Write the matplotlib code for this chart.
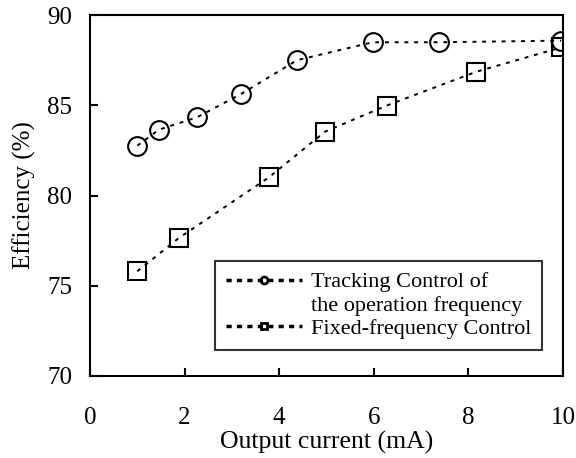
import matplotlib
matplotlib.use("Agg")
import matplotlib.pyplot as plt
from matplotlib.lines import Line2D

plt.rcParams['font.family'] = ['Liberation Serif', 'DejaVu Serif']

# Tracking control of the operation frequency
track_x = [1.0, 1.46, 2.26, 3.19, 4.38, 5.98, 7.38, 9.96]
track_y = [82.76, 83.65, 84.33, 85.62, 87.5, 88.49, 88.49, 88.58]

# Fixed-frequency control
fixed_x = [1.0, 1.88, 3.78, 4.97, 6.27, 8.17, 9.96]
fixed_y = [75.8, 77.65, 81.0, 83.54, 84.98, 86.86, 88.2]

fig = plt.figure(figsize=(5.76, 4.58), dpi=100)
ax = fig.add_axes([90 / 576, 1 - 376 / 458, 473 / 576, 361 / 458])

ax.plot(track_x, track_y, color='black', ls=(0, (2, 3)), lw=1.4,
        marker='o', ms=13.5, mfc='none', mec='black', mew=1.5)
ax.plot(fixed_x, fixed_y, color='black', ls=(0, (2, 3)), lw=1.4,
        marker='s', ms=13, mfc='none', mec='black', mew=1.5)

ax.set_xlim(0, 10)
ax.set_ylim(70, 90)
ax.set_xticks([0, 2, 4, 6, 8, 10])
ax.set_yticks([70, 75, 80, 85, 90])
ax.tick_params(direction='in', length=6, width=1.5, labelsize=18)
ax.tick_params(axis='x', pad=22)
ax.tick_params(axis='y', pad=13)
for s in ax.spines.values():
    s.set_linewidth(1.5)

ax.set_xlabel('Output current (mA)', fontsize=18.5, labelpad=2)
ax.set_ylabel('Efficiency (%)', fontsize=18, labelpad=8)

# legend: handle sits on the first line of the two-line label
h_track = Line2D([], [], color='black', ls=(0, (1.5, 1.5)), lw=2.5,
                 marker='o', ms=5, mfc='none', mec='black', mew=2)
h_blank = Line2D([], [], color='none')
h_fixed = Line2D([], [], color='black', ls=(0, (1.5, 1.5)), lw=2.5,
                 marker='s', ms=5, mfc='none', mec='black', mew=2)
leg = ax.legend([h_track, h_blank, h_fixed],
                ['Tracking Control of', 'the operation frequency',
                 'Fixed-frequency Control'],
                loc='lower right', bbox_to_anchor=(0.9556, 0.072), fontsize=16,
                handlelength=3.4, frameon=True, fancybox=False,
                edgecolor='black', borderpad=0.5, labelspacing=0.12,
                handletextpad=0.4, borderaxespad=0)
leg.get_frame().set_linewidth(1.5)

fig.savefig('out.png', dpi=100)
